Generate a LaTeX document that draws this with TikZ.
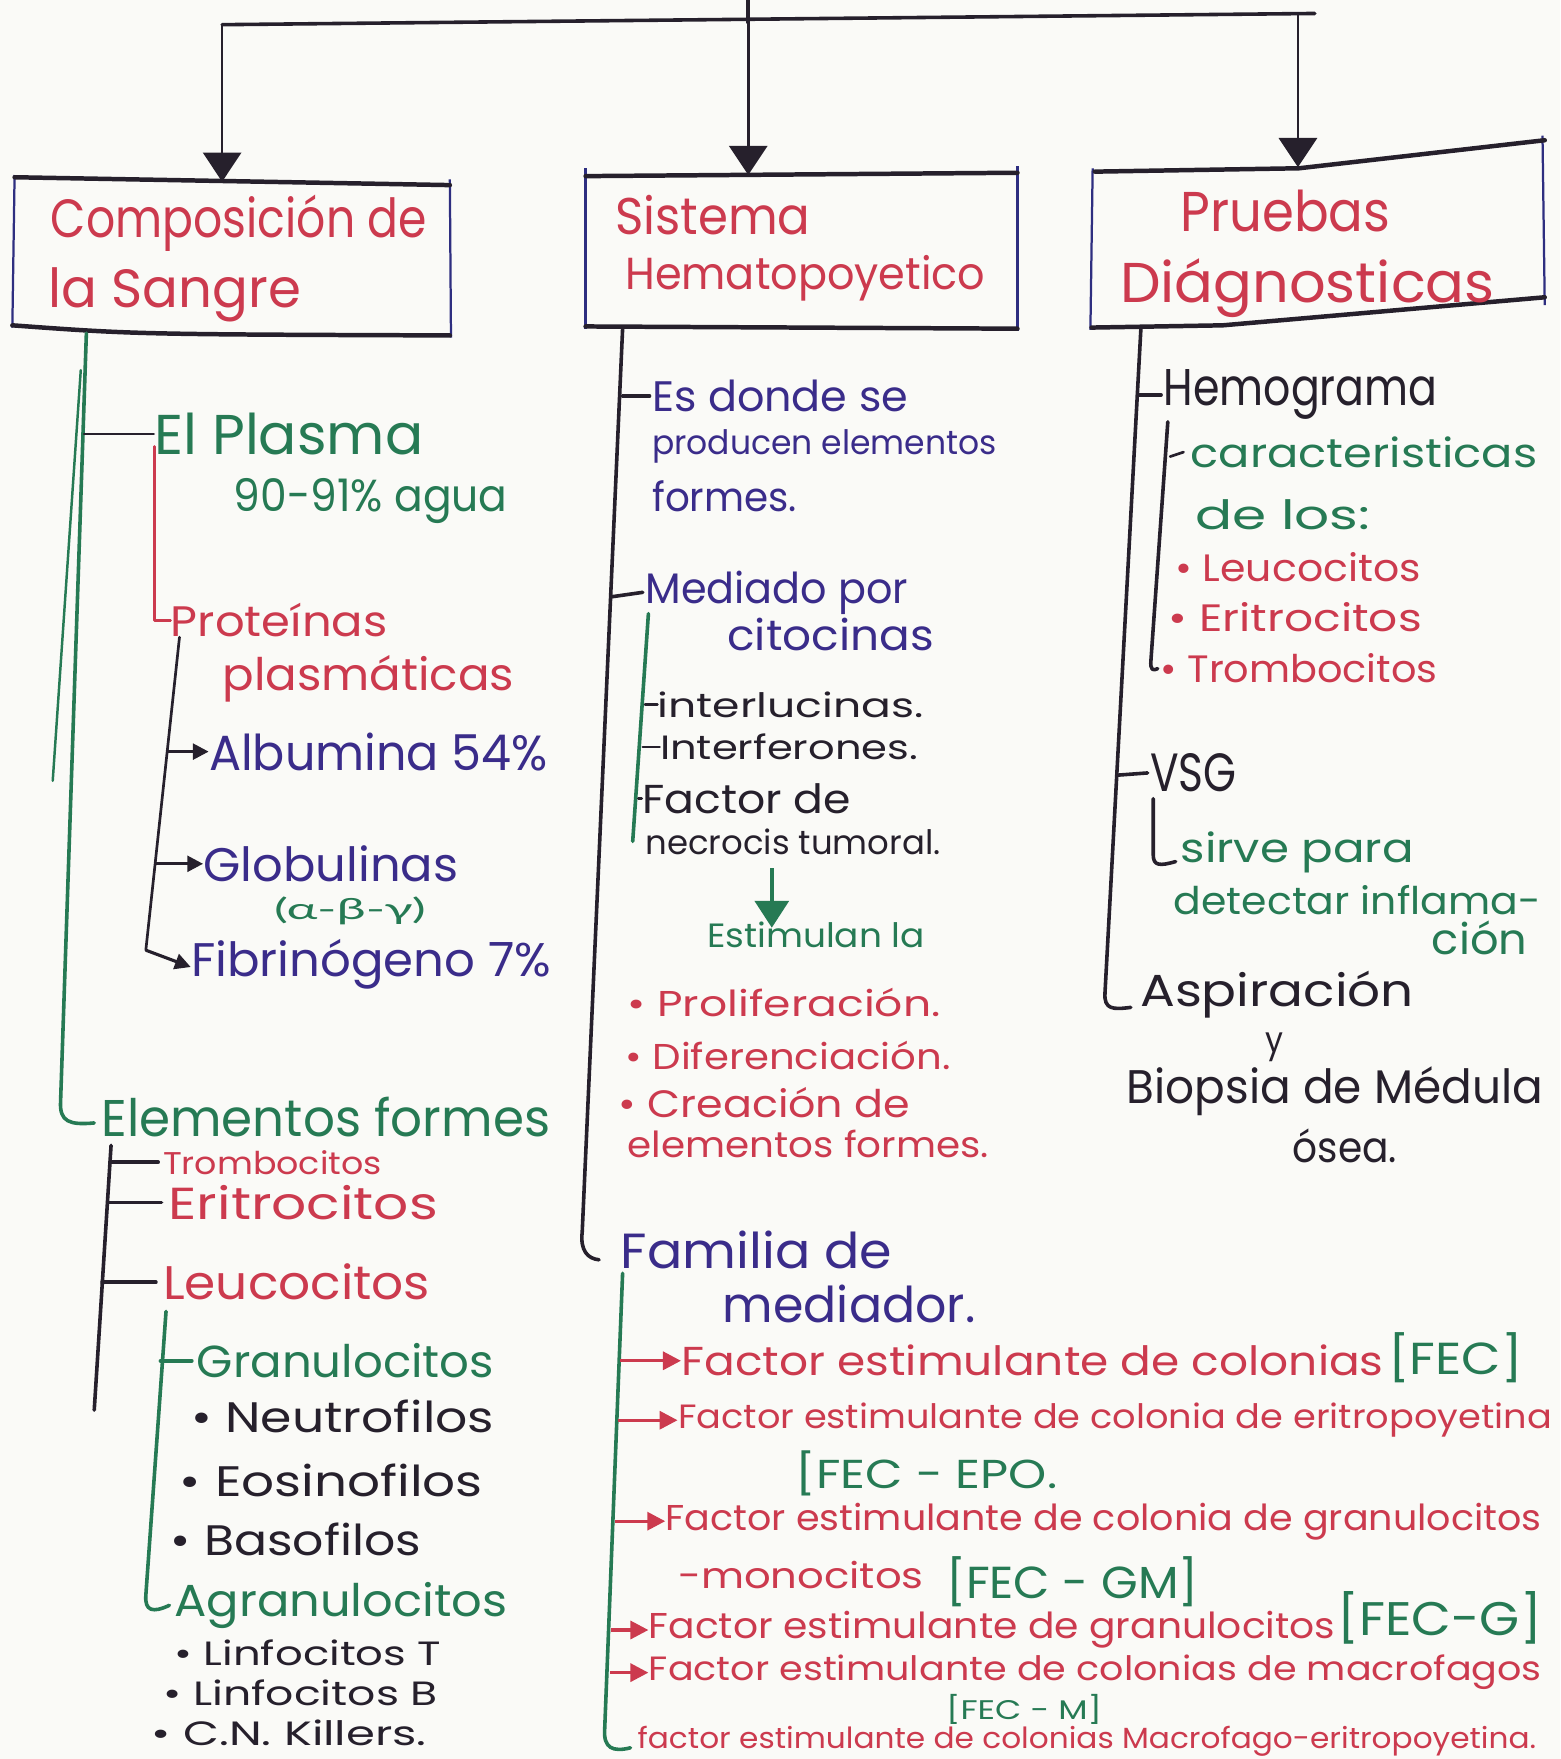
\documentclass[tikz,border=0pt]{standalone}
\usepackage{fontspec}
\usepackage{graphicx}
\setmainfont{Poppins}
\newfontfamily\greekfont{Lato}
\usetikzlibrary{arrows.meta}
\newlength\px
\setlength\px{0.5pt}
\newcommand\tw[2]{\resizebox{#1\px}{\height}{#2}}
\newcommand\fs[1]{\fontsize{#1}{#1}\selectfont}
\definecolor{paper}{RGB}{250,250,247}
\definecolor{cgreen}{RGB}{38,122,84}
\definecolor{cred}{RGB}{204,58,78}
\definecolor{cblue}{RGB}{58,44,138}
\definecolor{cink}{RGB}{38,32,44}
\definecolor{cbox}{RGB}{46,46,128}
\begin{document}
\begin{tikzpicture}[x=0.5pt,y=-0.5pt,
  t/.style={anchor=west,inner sep=0pt},
  gr/.style={text=cgreen}, rd/.style={text=cred}, bl/.style={text=cblue}, ik/.style={text=cink},
  inkln/.style={draw=cink,line width=1.6pt,line cap=round,line join=round},
  thinink/.style={draw=cink,line width=1.2pt,line cap=round,line join=round},
  greenln/.style={draw=cgreen,line width=1.6pt,line cap=round,line join=round},
  thingreen/.style={draw=cgreen,line width=1.1pt,line cap=round},
  redln/.style={draw=cred,line width=1.3pt,line cap=round,line join=round},
  boxedge/.style={draw=cink,line width=2pt,line cap=round,line join=round},
  boxside/.style={draw=cbox,line width=1pt},
  bigarrow/.style={draw=cink,line width=1.2pt,-{Triangle[length=13pt,width=17pt]}},
  blackarrow/.style={draw=cink,line width=1.4pt,-{Triangle[length=7pt,width=7pt]}},
  redarrow/.style={draw=cred,line width=1.5pt,-{Triangle[length=8pt,width=8pt]}},
  greenarrow/.style={draw=cgreen,line width=2pt,-{Triangle[length=12pt,width=15pt]}},
]
\fill[paper] (0,0) rectangle (1391,1568);
\useasboundingbox (0,0) rectangle (1391,1568);

% ---------- top connectors ----------
\coordinate (stub) at (667,0);
\coordinate (hub) at (667,20);
\coordinate (hl) at (198,22);
\coordinate (hr) at (1172,12);
\coordinate (h3) at (1157,13);
\coordinate (b1top) at (198,162);
\coordinate (b2top) at (667,156);
\coordinate (b3top) at (1157,149);
\draw[inkln] (stub) -- (hub);
\draw[inkln] (hl) -- (hr);
\draw[bigarrow] (hl) -- (b1top);
\draw[bigarrow] (hub) -- (b2top);
\draw[bigarrow] (h3) -- (b3top);

% ---------- boxes ----------
\draw[boxside] (13,156) -- (11,292);
\draw[boxside] (401,160) -- (402,301);
\draw[boxedge] (13,158) -- (401,165);
\draw[boxedge] (11,290) .. controls (120,298) .. (401,299);
\draw[boxside] (522,150) -- (522,293);
\draw[boxside] (907,148) -- (907,295);
\draw[boxedge] (522,157) -- (907,154);
\draw[boxedge] (522,291) -- (907,293);
\draw[boxside] (974,150) -- (972,294);
\draw[boxside] (1375,121) -- (1377,272);
\draw[boxedge] (976,153) -- (1158,150) -- (1377,125);
\draw[boxedge] (973,292) -- (1090,290) -- (1377,265);

\node[t,rd,font=\fs{24}] (t1a) at (45,199) {\tw{335}{Composición de}};
\node[t,rd,font=\fs{24}] (t1b) at (43,263) {\tw{225}{la Sangre}};
\node[t,rd,font=\fs{23}] (t2a) at (548,192) {\tw{174}{Sistema}};
\node[t,rd,font=\fs{20}] (t2b) at (557,248) {\tw{321}{Hematopoyetico}};
\node[t,rd,font=\fs{25}] (t3a) at (1052,188) {\tw{187}{Pruebas}};
\node[t,rd,font=\fs{25}] (t3b) at (998,257) {\tw{334}{Diágnosticas}};

% ---------- column 1 ----------
\node[t,gr,font=\fs{25}] (plasma) at (137,387) {\tw{240}{El Plasma}};
\node[t,gr,font=\fs{20}] (agua) at (208,447) {\tw{244}{90-91\% agua}};
\node[t,rd,font=\fs{19}] (prot) at (152,553) {\tw{193}{Proteínas}};
\node[t,rd,font=\fs{20}] (plasm) at (198,605) {\tw{260}{plasmáticas}};
\node[t,bl,font=\fs{22}] (albu) at (186,670) {\tw{302}{Albumina 54\%}};
\node[t,bl,font=\fs{21}] (glob) at (181,770) {\tw{227}{Globulinas}};
\node[t,gr,font=\fs{13}] (greek) at (244,812) {\tw{135}{\greekfont (α-β-γ)}};
\node[t,bl,font=\fs{21}] (fibr) at (170,860) {\tw{321}{Fibrinógeno 7\%}};
\node[t,gr,font=\fs{23}] (elem) at (90,996) {\tw{400}{Elementos formes}};
\node[t,rd,font=\fs{14}] (tromb1) at (145,1036) {\tw{195}{Trombocitos}};
\node[t,rd,font=\fs{20}] (eritr1) at (150,1072) {\tw{240}{Eritrocitos}};
\node[t,rd,font=\fs{21}] (leuco1) at (145,1143) {\tw{238}{Leucocitos}};
\node[t,gr,font=\fs{20}] (granu) at (175,1213) {\tw{265}{Granulocitos}};
\node[t,ik,font=\fs{19}] (neutro) at (170,1263) {\tw{270}{• Neutrofilos}};
\node[t,ik,font=\fs{19}] (eosin) at (160,1320) {\tw{270}{• Eosinofilos}};
\node[t,ik,font=\fs{19}] (baso) at (152,1372) {\tw{223}{• Basofilos}};
\node[t,gr,font=\fs{20}] (agran) at (155,1431) {\tw{297}{Agranulocitos}};
\node[t,ik,font=\fs{15}] (linT) at (155,1473) {\tw{238}{• Linfocitos T}};
\node[t,ik,font=\fs{15}] (linB) at (145,1509) {\tw{245}{• Linfocitos B}};
\node[t,ik,font=\fs{15}] (killers) at (135,1545) {\tw{245}{• C.N. Killers.}};

\coordinate (g1a) at (77,297);
\coordinate (g1b) at (54,982);
\coordinate (g1c) at (84,1001);
\draw[greenln] (g1a) -- (g1b) .. controls (53,1000) and (62,1003) .. (g1c);
\coordinate (g2a) at (72,330);
\coordinate (g2b) at (47,696);
\draw[thingreen] (g2a) -- (g2b);
\coordinate (jpl) at (75,387);
\draw[thinink] (jpl) -- (plasma.west);
\coordinate (r1a) at (138,398);
\coordinate (r1b) at (138,553);
\draw[redln] (r1a) -- (r1b) -- (prot.west);
\coordinate (p1a) at (160,568);
\coordinate (p1b) at (130,847);
\draw[thinink] (p1a) -- (p1b);
\coordinate (jal) at (150,670);
\coordinate (jgl) at (138,770);
\coordinate (jfi) at (130,847);
\draw[blackarrow] (jal) -- (albu.west);
\draw[blackarrow] (jgl) -- (glob.west);
\draw[blackarrow] (jfi) -- ([yshift=-1pt]fibr.west);
\coordinate (e1a) at (99,1021);
\coordinate (e1b) at (84,1257);
\draw[inkln] (e1a) -- (e1b);
\coordinate (jtr) at (98,1036);
\coordinate (jer) at (96,1072);
\coordinate (jle) at (91,1143);
\draw[inkln] (jtr) -- ([xshift=-2pt]tromb1.west);
\draw[inkln] (jer) -- ([xshift=-3pt]eritr1.west);
\draw[inkln] (jle) -- ([xshift=-3pt]leuco1.west);
\coordinate (l1a) at (148,1169);
\coordinate (l1b) at (130,1422);
\coordinate (jgr) at (143,1213);
\draw[greenln] (l1a) -- (l1b) .. controls (129,1436) and (136,1438) .. ([xshift=-2pt]agran.west);
\draw[greenln] (jgr) -- ([xshift=-2pt]granu.west);

% ---------- column 2 ----------
\node[t,bl,font=\fs{19}] (esd1) at (581,353) {\tw{228}{Es donde se}};
\node[t,bl,font=\fs{15}] (esd2) at (581,398) {\tw{307}{producen elementos}};
\node[t,bl,font=\fs{18}] (esd3) at (581,442) {\tw{129}{formes.}};
\node[t,bl,font=\fs{19}] (medi1) at (575,528) {\tw{234}{Mediado por}};
\node[t,bl,font=\fs{19}] (medi2) at (648,566) {\tw{184}{citocinas}};
\node[t,ik,font=\fs{15}] (inter1) at (586,628) {\tw{237}{interlucinas.}};
\node[t,ik,font=\fs{15}] (inter2) at (588,666) {\tw{230}{Interferones.}};
\node[t,ik,font=\fs{18}] (fact1) at (572,712) {\tw{186}{Factor de}};
\node[t,ik,font=\fs{15}] (fact2) at (575,750) {\tw{263}{necrocis tumoral.}};
\node[t,gr,font=\fs{15}] (estim) at (630,833) {\tw{194}{Estimulan la}};
\node[t,rd,font=\fs{16}] (prol) at (559,894) {\tw{279}{• Proliferación.}};
\node[t,rd,font=\fs{16}] (dif) at (557,941) {\tw{290}{• Diferenciación.}};
\node[t,rd,font=\fs{17}] (crea) at (551,983) {\tw{260}{• Creación de}};
\node[t,rd,font=\fs{16}] (crea2) at (559,1020) {\tw{322}{elementos formes.}};
\node[t,bl,font=\fs{22}] (fam1) at (553,1114) {\tw{242}{Familia de}};
\node[t,bl,font=\fs{22}] (fam2) at (644,1162) {\tw{225}{mediador.}};
\node[t,rd,font=\fs{18}] (f1) at (607,1213) {\tw{626}{Factor estimulante de colonias}};
\node[t,gr,font=\fs{20}] (f1b) at (1237,1210) {\tw{120}{[FEC]}};
\node[t,rd,font=\fs{15}] (f2) at (604,1266) {\tw{779}{Factor estimulante de colonia de eritropoyetina}};
\node[t,gr,font=\fs{18}] (f2b) at (709,1313) {\tw{233}{[FEC - EPO.}};
\node[t,rd,font=\fs{16}] (f3) at (593,1356) {\tw{781}{Factor estimulante de colonia de granulocitos}};
\node[t,rd,font=\fs{16}] (f3b) at (604,1404) {\tw{219}{-monocitos}};
\node[t,gr,font=\fs{20}] (f3c) at (843,1410) {\tw{225}{[FEC - GM]}};
\node[t,rd,font=\fs{16}] (f4) at (578,1453) {\tw{612}{Factor estimulante de granulocitos}};
\node[t,gr,font=\fs{21}] (f4b) at (1192,1442) {\tw{182}{[FEC-G]}};
\node[t,rd,font=\fs{15}] (f5) at (578,1491) {\tw{796}{Factor estimulante de colonias de macrofagos}};
\node[t,gr,font=\fs{12}] (f5b) at (843,1524) {\tw{139}{[FEC - M]}};
\node[t,rd,font=\fs{13}] (f6) at (568,1552) {\tw{801}{factor estimulante de colonias Macrofago-eritropoyetina.}};

\coordinate (m2a) at (555,293);
\coordinate (m2b) at (519,1098);
\coordinate (m2c) at (534,1123);
\draw[inkln] (m2a) -- (m2b) .. controls (517,1115) and (524,1122) .. (m2c);
\coordinate (jes) at (555,353);
\draw[inkln] (jes) -- ([xshift=-1pt]esd1.west);
\coordinate (jme) at (545,532);
\draw[inkln] (jme) -- ([xshift=-1pt]medi1.west);
\coordinate (c2a) at (578,547);
\coordinate (c2b) at (564,750);
\draw[greenln] (c2a) -- (c2b);
\coordinate (jin1) at (575,628);
\coordinate (jin2) at (573,666);
\coordinate (jfa) at (569,712);
\draw[thinink] (jin1) -- (inter1.west);
\draw[thinink] (jin2) -- (inter2.west);
\draw[thinink] (jfa) -- (fact1.west);
\coordinate (ga1) at (688,774);
\coordinate (ga2) at (688,827);
\draw[greenarrow] (ga1) -- (ga2);
\coordinate (fm1) at (555,1135);
\coordinate (fm2) at (539,1542);
\coordinate (fm3) at (562,1558);
\draw[greenln] (fm1) -- (fm2) .. controls (538,1558) and (546,1562) .. (fm3);
\coordinate (jf1) at (553,1213);
\coordinate (jf2) at (551,1266);
\coordinate (jf3) at (548,1356);
\coordinate (jf4) at (545,1453);
\coordinate (jf5) at (544,1491);
\draw[redarrow] (jf1) -- (f1.west);
\draw[redarrow] (jf2) -- (f2.west);
\draw[redarrow] (jf3) -- (f3.west);
\draw[redarrow] (jf4) -- (f4.west);
\draw[redarrow] (jf5) -- (f5.west);

% ---------- column 3 ----------
\node[t,ik,font=\fs{23}] (hemo) at (1037,352) {\tw{244}{Hemograma}};
\node[t,gr,font=\fs{18}] (car1) at (1061,403) {\tw{309}{caracteristicas}};
\node[t,gr,font=\fs{18}] (car2) at (1065,459) {\tw{156}{de los:}};
\node[t,rd,font=\fs{17}] (leu3) at (1047,506) {\tw{219}{• Leucocitos}};
\node[t,rd,font=\fs{17}] (eri3) at (1041,550) {\tw{226}{• Eritrocitos}};
\node[t,rd,font=\fs{17}] (tro3) at (1034,596) {\tw{247}{• Trombocitos}};
\node[t,ik,font=\fs{24}] (vsg) at (1025,689) {\tw{77}{VSG}};
\node[t,gr,font=\fs{18}] (sirve) at (1052,760) {\tw{208}{sirve para}};
\node[t,gr,font=\fs{17}] (detect) at (1046,802) {\tw{327}{detectar inflama-}};
\node[t,gr,font=\fs{19}] (cion) at (1276,836) {\tw{85}{ción}};
\node[t,ik,font=\fs{20}] (aspir) at (1016,887) {\tw{244}{Aspiración}};
\node[t,ik,font=\fs{16}] (ylet) at (1128,934) {\tw{16}{y}};
\node[t,ik,font=\fs{21}] (biop) at (1004,973) {\tw{371}{Biopsia de Médula}};
\node[t,ik,font=\fs{19}] (osea) at (1152,1021) {\tw{93}{ósea.}};

\coordinate (m3a) at (1017,293);
\coordinate (m3b) at (985,885);
\coordinate (m3c) at (1008,898);
\draw[inkln] (m3a) -- (m3b) .. controls (984,900) and (992,900) .. (m3c);
\coordinate (jhe) at (1014,352);
\draw[inkln] (jhe) -- ([xshift=-1pt]hemo.west);
\coordinate (s3a) at (1041,376);
\coordinate (s3b) at (1026,588);
\draw[inkln] (s3a) -- (s3b) .. controls (1025,598) and (1028,598) .. ([xshift=-1pt]tro3.west);
\coordinate (jca) at (1043,407);
\draw[thinink] (jca) -- ([xshift=-3pt]car1.west);
\coordinate (jvs) at (996,691);
\draw[inkln] (jvs) -- ([xshift=-1pt]vsg.west);
\coordinate (v3a) at (1028,712);
\coordinate (v3b) at (1028,762);
\draw[inkln] (v3a) -- (v3b) .. controls (1028,772) and (1034,772) .. ([xshift=-2pt,yshift=-4pt]sirve.west);
\end{tikzpicture}
\end{document}
